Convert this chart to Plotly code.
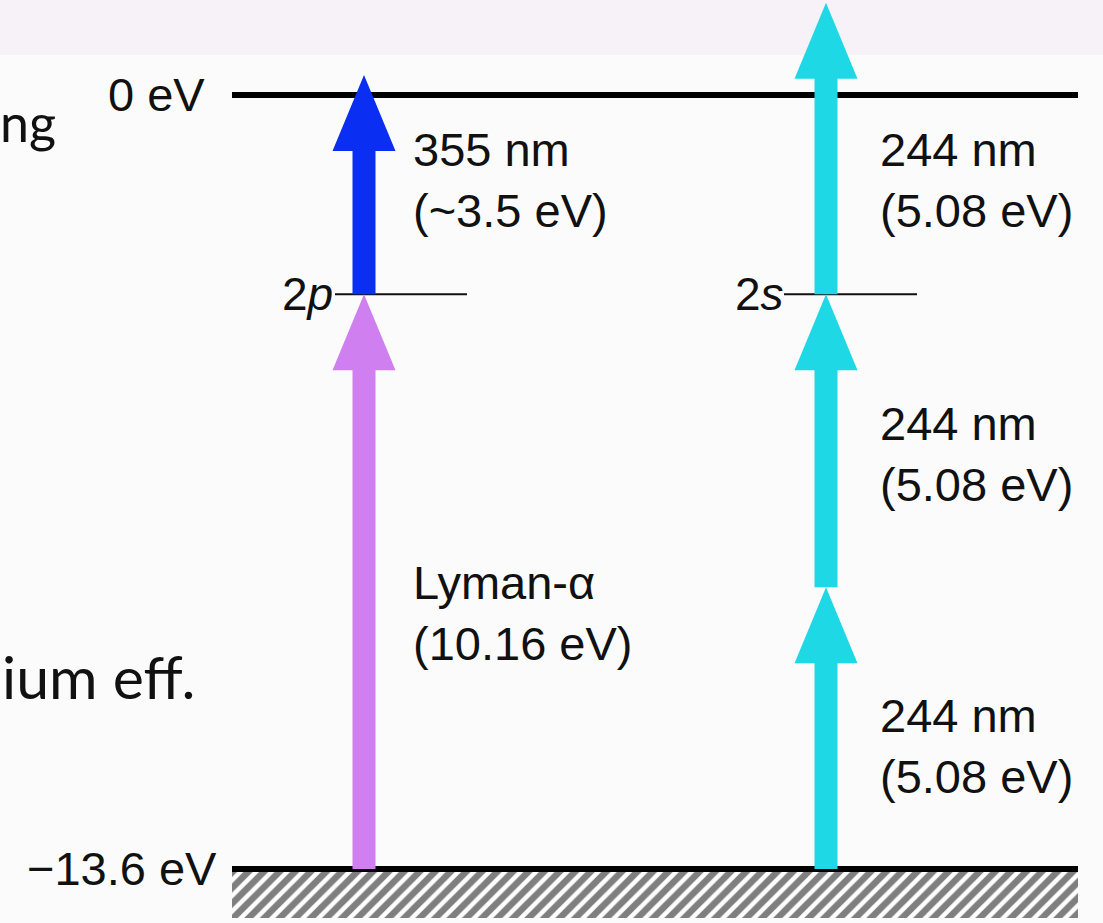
import plotly.graph_objects as go

# ---------------- data (energies in eV) ----------------
level_names = ["0 eV", "\u221213.6 eV"]
level_energy = [0.0, -13.6]

sublevel_names = ["2<i>p</i>", "2<i>s</i>"]
sublevel_energy = [-3.5, -3.5]

arrow_names = ["Lyman-\u03b1", "355 nm", "244 nm #1", "244 nm #2", "244 nm #3"]
arrow_start = [-13.6, -3.5, -13.6, -8.65, -3.5]
arrow_tip = [-3.5, 0.35, -8.65, -3.5, 1.62]
arrow_column = [0, 0, 1, 1, 1]

label_line1 = ["355 nm", "Lyman-\u03b1", "244 nm", "244 nm", "244 nm"]
label_line2 = ["(~3.5 eV)", "(10.16 eV)", "(5.08 eV)", "(5.08 eV)", "(5.08 eV)"]
label_energy = [-1.5, -9.1, -1.5, -6.31, -11.44]
label_column = [0, 0, 1, 1, 1]

# ---------------- layout / style ----------------
W, H = 1103, 923
Y_TOP, Y_BOT = 1.669, -14.549
PX_PER_EV = H / (Y_TOP - Y_BOT)

col_x = [364, 826]
arrow_colors = ["#d07ff0", "#0b2ff2", "#1fd8e6", "#1fd8e6", "#1fd8e6"]
SHAFT_HALF = 11.5
HEAD_HALF = 31.5
HEAD_LEN = 76 / PX_PER_EV

LEVEL_X0, LEVEL_X1 = 232, 1078
SUB_X = [(335, 467), (784, 917)]
HATCH_BOTTOM = -14.46

FONT = "Liberation Sans, Arial, Helvetica, sans-serif"
FS = 47

fig = go.Figure()

# hatched ground
fig.add_trace(go.Scatter(
    x=[LEVEL_X0, LEVEL_X1, LEVEL_X1, LEVEL_X0, LEVEL_X0],
    y=[level_energy[1], level_energy[1], HATCH_BOTTOM, HATCH_BOTTOM, level_energy[1]],
    mode="lines", fill="toself", line=dict(width=0, color="rgba(0,0,0,0)"),
    fillcolor="#ffffff",
    fillpattern=dict(shape="/", fgcolor="#000000", bgcolor="#ffffff", size=11, solidity=0.6),
    hoverinfo="skip", showlegend=False))

# main levels
for e in level_energy:
    fig.add_trace(go.Scatter(x=[LEVEL_X0, LEVEL_X1], y=[e, e], mode="lines",
                             line=dict(color="#000000", width=6), hoverinfo="skip",
                             showlegend=False))
# n=2 sublevels
for (x0, x1), e in zip(SUB_X, sublevel_energy):
    fig.add_trace(go.Scatter(x=[x0, x1], y=[e, e], mode="lines",
                             line=dict(color="#111111", width=2), hoverinfo="skip",
                             showlegend=False))

# arrows
for name, y0, yt, c, col in zip(arrow_names, arrow_start, arrow_tip, arrow_colors, arrow_column):
    xc = col_x[col]
    yb = yt - HEAD_LEN
    xs = [xc - SHAFT_HALF, xc - SHAFT_HALF, xc - HEAD_HALF, xc, xc + HEAD_HALF,
          xc + SHAFT_HALF, xc + SHAFT_HALF, xc - SHAFT_HALF]
    ys = [y0, yb, yb, yt, yb, yb, y0, y0]
    fig.add_trace(go.Scatter(x=xs, y=ys, mode="lines", fill="toself", fillcolor=c,
                             line=dict(width=0, color=c), name=name,
                             hoverinfo="name", showlegend=False))

annotations = []
# level labels
level_label_right = [207, 219]
for name, e, xr in zip(level_names, level_energy, level_label_right):
    annotations.append(dict(x=xr, y=e, xref="x", yref="y", text=name, showarrow=False,
                            xanchor="right", yanchor="middle",
                            font=dict(family=FONT, size=FS, color="#111111")))
sub_label_right = [335, 786]
for name, e, xr in zip(sublevel_names, sublevel_energy, sub_label_right):
    annotations.append(dict(x=xr, y=e, xref="x", yref="y", text=name, showarrow=False,
                            xanchor="right", yanchor="middle",
                            font=dict(family=FONT, size=FS - 1, color="#111111")))

label_x = [411, 878]
for l1, l2, e, col in zip(label_line1, label_line2, label_energy, label_column):
    annotations.append(dict(x=label_x[col], y=e, xref="x", yref="y",
                            text=l1 + "<br>" + l2, showarrow=False, align="left",
                            xanchor="left", yanchor="middle",
                            font=dict(family=FONT, size=FS, color="#111111")))

# cut-off slide text on the left
SLIDE_FONT = "Lato, Open Sans, sans-serif"
annotations.append(dict(x=58, y=1 - 122 / H, xref="x", yref="paper", text="ng",
                        showarrow=False, xanchor="right", yanchor="middle",
                        font=dict(family=SLIDE_FONT, size=52, color="#111111")))
annotations.append(dict(x=197, y=1 - 676 / H, xref="x", yref="paper", text="ium eff.",
                        showarrow=False, xanchor="right", yanchor="middle",
                        font=dict(family=SLIDE_FONT, size=59, color="#111111")))

fig.update_layout(
    width=W, height=H, margin=dict(l=0, r=0, t=0, b=0),
    paper_bgcolor="#fbfbfb", plot_bgcolor="#fbfbfb",
    xaxis=dict(range=[0, W], visible=False, fixedrange=True),
    yaxis=dict(range=[Y_BOT, Y_TOP], visible=False, fixedrange=True),
    annotations=annotations,
    shapes=[dict(type="rect", xref="paper", yref="paper", x0=0, x1=1,
                 y0=1 - 55 / H, y1=1, fillcolor="#f6f2f8", line=dict(width=0),
                 layer="below")],
    showlegend=False,
)

fig.write_html("out.html", config={"displayModeBar": False},
               post_script="document.body.style.margin='0';document.body.style.overflow='hidden';")
